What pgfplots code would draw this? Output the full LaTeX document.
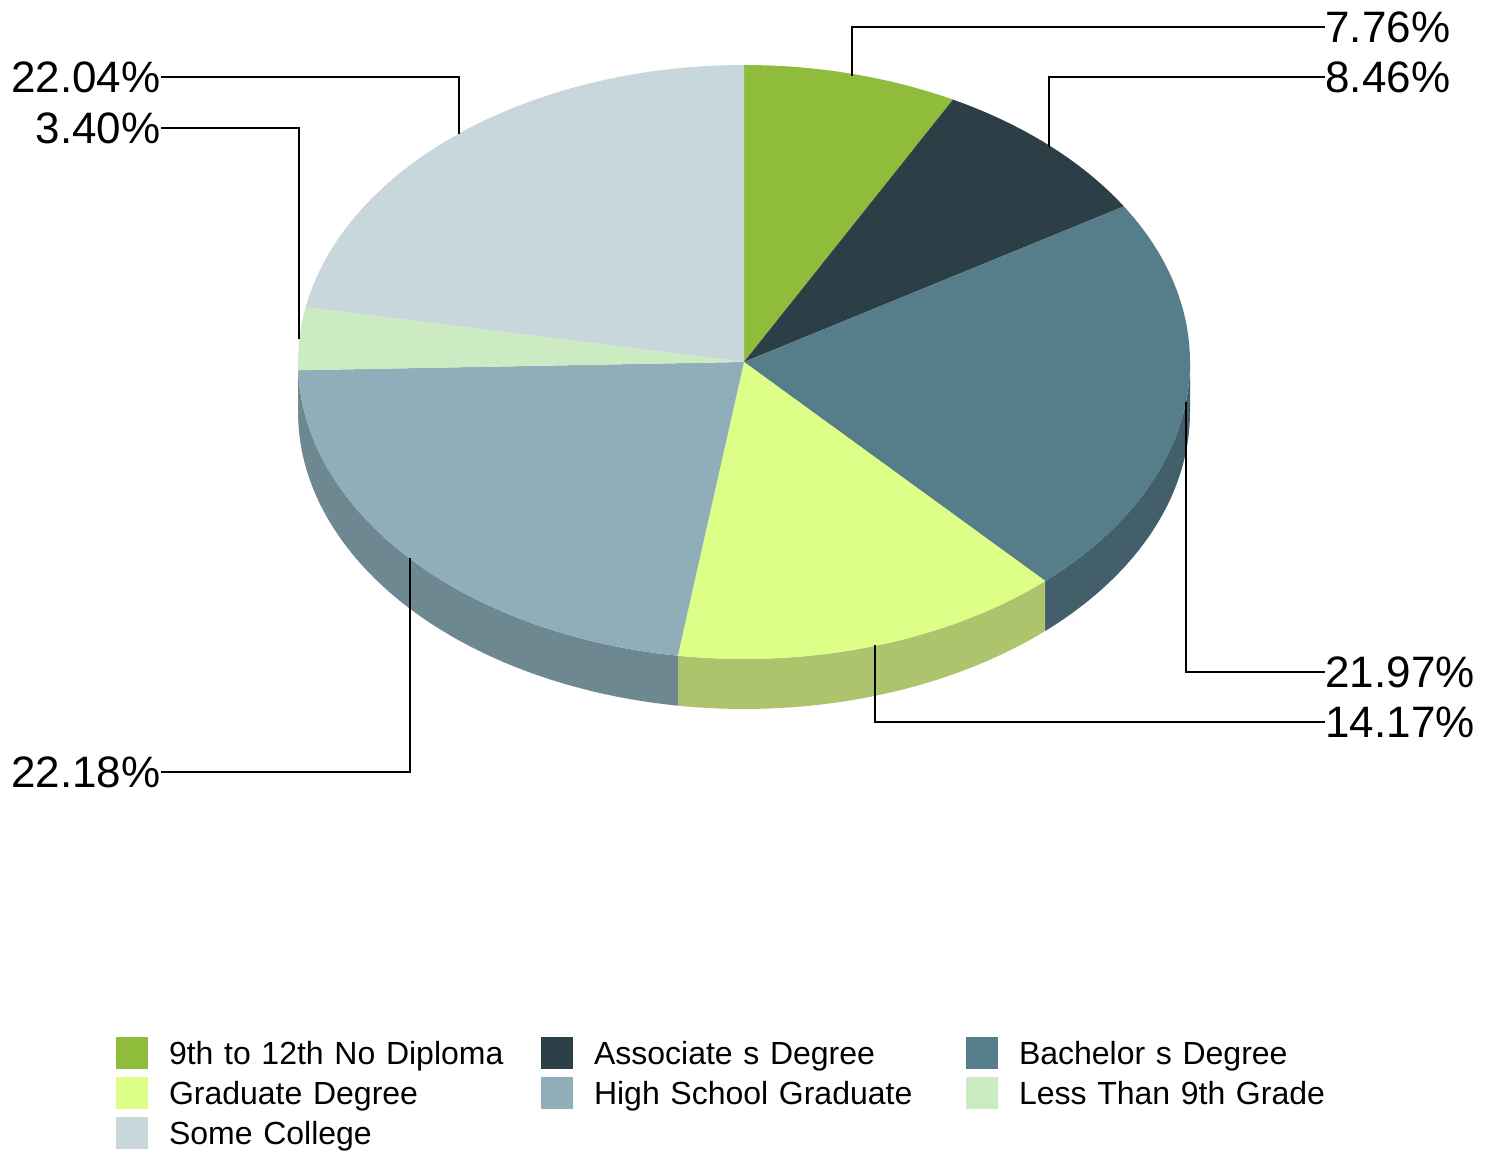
\documentclass[border=0pt]{standalone}
\usepackage{pgfplots}
\pgfplotsset{compat=1.18}
\usepgfplotslibrary{fillbetween}
\usepackage{fontspec}
\setmainfont{Liberation Sans}
\definecolor{cA}{HTML}{8FBC3B}
\definecolor{cB}{HTML}{2C3F47}
\definecolor{cC}{HTML}{567D8A}
\definecolor{cD}{HTML}{DDFF88}
\definecolor{cE}{HTML}{8FAEB9}
\definecolor{cF}{HTML}{CDEBC3}
\definecolor{cG}{HTML}{C8D7DC}
\definecolor{sC}{HTML}{43606A}
\definecolor{sD}{HTML}{AEC46C}
\definecolor{sE}{HTML}{6E8892}
\definecolor{sF}{HTML}{A0B899}
% shares (percent)
\def\vA{7.76}  % 9th to 12th No Diploma
\def\vB{8.46}  % Associate s Degree
\def\vC{21.97} % Bachelor s Degree
\def\vD{14.17} % Graduate Degree
\def\vE{22.18} % High School Graduate
\def\vF{3.40}  % Less Than 9th Grade
\def\vG{22.04} % Some College
\pgfmathsetmacro{\tot}{\vA+\vB+\vC+\vD+\vE+\vF+\vG}
\pgfmathsetmacro{\aA}{90-360*\vA/\tot}
\pgfmathsetmacro{\aB}{\aA-360*\vB/\tot}
\pgfmathsetmacro{\aC}{\aB-360*\vC/\tot}
\pgfmathsetmacro{\aD}{\aC-360*\vD/\tot}
\pgfmathsetmacro{\aE}{\aD-360*\vE/\tot}
\pgfmathsetmacro{\aF}{\aE-360*\vF/\tot}
\pgfmathsetmacro{\aG}{\aF-360*\vG/\tot}
\def\cx{744}\def\cy{362}\def\rx{446}\def\ry{297}\def\dz{50}
\begin{document}
\begin{tikzpicture}
\begin{axis}[
  width=749.5pt, height=576.5pt, scale only axis,
  xmin=0, xmax=1499, ymin=0, ymax=1153, y dir=reverse,
  hide axis, clip=false,
  legend columns=3,
  legend image code/.code={\fill[#1] (0pt,-2pt) rectangle (16pt,14pt);},
  legend style={at={(0.07739,0.10061)}, anchor=north west, draw=none, fill=none,
    inner sep=0pt, outer sep=0pt, row sep=0pt, column sep=0pt,
    font=\fontsize{16}{19}\selectfont,
    cells={anchor=base west},
    nodes={inner sep=0pt, text height=14pt, text depth=6pt},
    /tikz/every odd column/.append style={column sep=10.5pt},
    /tikz/every even column/.append style={text width=186pt, align=left}},
]
\addplot[draw=none, forget plot] coordinates {(0,0) (1499,1153)};
% side walls
\addplot[draw=none, name path=tC, domain=\aC:0, samples=40, forget plot] ({\cx+\rx*cos(x)},{\cy-\ry*sin(x)});
\addplot[draw=none, name path=bC, domain=\aC:0, samples=40, forget plot] ({\cx+\rx*cos(x)},{\cy+\dz-\ry*sin(x)});
\addplot[fill=sC, draw=none, forget plot] fill between[of=tC and bC];
\addplot[draw=none, name path=tD, domain=\aD:\aC, samples=40, forget plot] ({\cx+\rx*cos(x)},{\cy-\ry*sin(x)});
\addplot[draw=none, name path=bD, domain=\aD:\aC, samples=40, forget plot] ({\cx+\rx*cos(x)},{\cy+\dz-\ry*sin(x)});
\addplot[fill=sD, draw=none, forget plot] fill between[of=tD and bD];
\addplot[draw=none, name path=tE, domain=\aE:\aD, samples=50, forget plot] ({\cx+\rx*cos(x)},{\cy-\ry*sin(x)});
\addplot[draw=none, name path=bE, domain=\aE:\aD, samples=50, forget plot] ({\cx+\rx*cos(x)},{\cy+\dz-\ry*sin(x)});
\addplot[fill=sE, draw=none, forget plot] fill between[of=tE and bE];
\addplot[draw=none, name path=tF, domain=-180:\aE, samples=5, forget plot] ({\cx+\rx*cos(x)},{\cy-\ry*sin(x)});
\addplot[draw=none, name path=bF, domain=-180:\aE, samples=5, forget plot] ({\cx+\rx*cos(x)},{\cy+\dz-\ry*sin(x)});
\addplot[fill=sF, draw=none, forget plot] fill between[of=tF and bF];
% top faces
\addplot[fill=cA, draw=none, domain=\aA:90, samples=30] ({\cx+\rx*cos(x)},{\cy-\ry*sin(x)}) -- (axis cs:\cx,\cy) -- cycle;
\addplot[fill=cB, draw=none, domain=\aB:\aA, samples=30] ({\cx+\rx*cos(x)},{\cy-\ry*sin(x)}) -- (axis cs:\cx,\cy) -- cycle;
\addplot[fill=cC, draw=none, domain=\aC:\aB, samples=60] ({\cx+\rx*cos(x)},{\cy-\ry*sin(x)}) -- (axis cs:\cx,\cy) -- cycle;
\addplot[fill=cD, draw=none, domain=\aD:\aC, samples=50] ({\cx+\rx*cos(x)},{\cy-\ry*sin(x)}) -- (axis cs:\cx,\cy) -- cycle;
\addplot[fill=cE, draw=none, domain=\aE:\aD, samples=60] ({\cx+\rx*cos(x)},{\cy-\ry*sin(x)}) -- (axis cs:\cx,\cy) -- cycle;
\addplot[fill=cF, draw=none, domain=\aF:\aE, samples=15] ({\cx+\rx*cos(x)},{\cy-\ry*sin(x)}) -- (axis cs:\cx,\cy) -- cycle;
\addplot[fill=cG, draw=none, domain=\aG:\aF, samples=60] ({\cx+\rx*cos(x)},{\cy-\ry*sin(x)}) -- (axis cs:\cx,\cy) -- cycle;
\legend{9th to 12th No Diploma, Associate s Degree, Bachelor s Degree, Graduate Degree, High School Graduate, Less Than 9th Grade, Some College}
% leader lines
\addplot[black, line width=1pt, forget plot] coordinates {(852,76) (852,27) (1325,27)};
\addplot[black, line width=1pt, forget plot] coordinates {(1049,147) (1049,77.5) (1325,77.5)};
\addplot[black, line width=1pt, forget plot] coordinates {(1186,402) (1186,672) (1325,672)};
\addplot[black, line width=1pt, forget plot] coordinates {(875,645) (875,722) (1325,722)};
\addplot[black, line width=1pt, forget plot] coordinates {(410,558) (410,772) (161,772)};
\addplot[black, line width=1pt, forget plot] coordinates {(161,77.5) (459,77.5) (459,134)};
\addplot[black, line width=1pt, forget plot] coordinates {(161,128) (299,128) (299,339)};
% labels
\begin{scope}[every node/.style={inner sep=0pt, font=\fontsize{22}{26}\selectfont}]
\node[anchor=west] at (axis cs:1325,27) {7.76\%};
\node[anchor=west] at (axis cs:1325,77.5) {8.46\%};
\node[anchor=west] at (axis cs:1325,672) {21.97\%};
\node[anchor=west] at (axis cs:1325,722) {14.17\%};
\node[anchor=east] at (axis cs:161,772) {22.18\%};
\node[anchor=east] at (axis cs:161,77.5) {22.04\%};
\node[anchor=east] at (axis cs:161,128) {3.40\%};
\end{scope}
\end{axis}
\end{tikzpicture}
\end{document}
